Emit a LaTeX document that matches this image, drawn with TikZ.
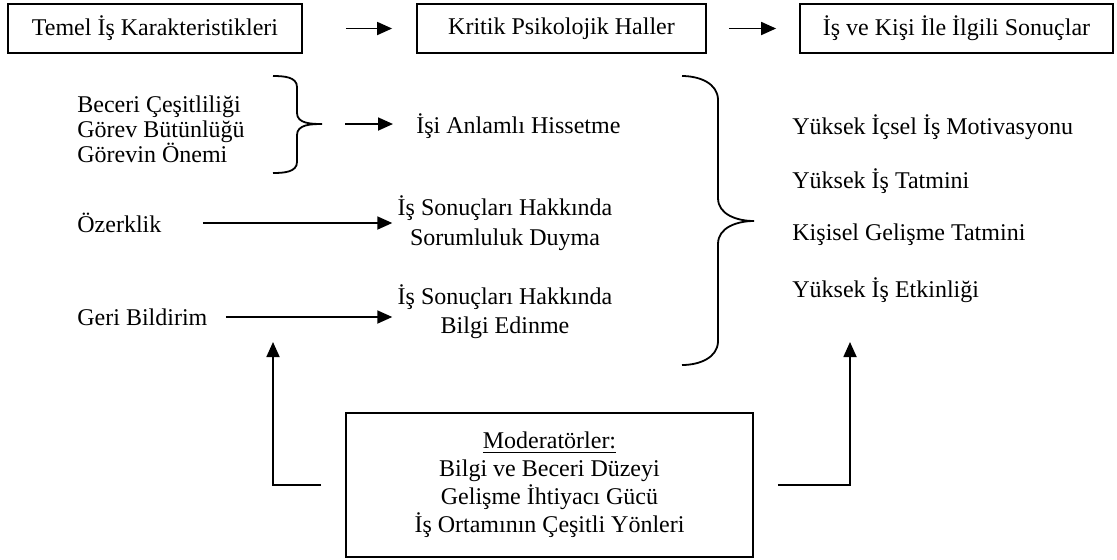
\documentclass[tikz,border=0pt]{standalone}
\usepackage{fontspec}
\setmainfont{Liberation Serif}
\usetikzlibrary{arrows.meta}
\usetikzlibrary{positioning}

\tikzset{
 kutu/.style={draw,line width=0.9pt,minimum height=24.5pt,inner sep=0pt},
 yazi/.style={inner sep=0pt,anchor=west},
 ok/.style={-{Triangle[length=7.5pt,width=6.5pt]},line width=0.9pt},
 parantez/.style={line width=0.9pt}
}

\begin{document}
\begin{tikzpicture}[x=0.5pt,y=-0.5pt,font=\fontsize{12}{14}\selectfont]
 \useasboundingbox (0,0) rectangle (1117,559);
 \node[kutu,minimum width=147pt] (temel) at (155,28.5) {Temel İş Karakteristikleri};
 \node[kutu,minimum width=144.5pt] (kritik) at (561.5,28.5) {Kritik Psikolojik Haller};
 \node[kutu,minimum width=156.5pt] (sonuc) at (956.5,28.5) {İş ve Kişi İle İlgili Sonuçlar};
 \draw[ok] ([xshift=21.5pt]temel.east) -- ([xshift=-12pt]kritik.west);
 \draw[ok] ([xshift=11pt]kritik.east) -- ([xshift=-11.5pt]sonuc.west);

 \node[yazi,align=left,font=\fontsize{12}{12.5}\selectfont] (beceri) at (77,129) {Beceri Çeşitliliği\\Görev Bütünlüğü\\Görevin Önemi};
 \draw[parantez] (273,76) to[out=0,in=90] (297,87) -- (297,113) to[out=-90,in=180] (322,124) to[out=180,in=90] (297,135) -- (297,162) to[out=-90,in=0] (273,173);
 \coordinate (kucuk) at (322,124);
 \node[yazi] (anlam) at (416,126) {İşi Anlamlı Hissetme};
 \draw[ok] ([xshift=11.5pt]kucuk) -- ([xshift=-11.5pt]anlam.west |- kucuk);

 \node[yazi] (ozerk) at (77,223) {Özerklik};
 \node[align=center,inner sep=0pt,font=\fontsize{12}{15}\selectfont] (sorum) at (505,223) {İş Sonuçları Hakkında\\Sorumluluk Duyma};
 \draw[ok] ([xshift=20.5pt]ozerk.east) -- ([xshift=-2.5pt]sorum.west);

 \node[yazi] (geri) at (77,317) {Geri Bildirim};
 \node[align=center,inner sep=0pt,font=\fontsize{12}{14.5}\selectfont] (bilgi) at (505,312) {İş Sonuçları Hakkında\\Bilgi Edinme};
 \draw[ok] ([xshift=9pt]geri.east) -- ([xshift=-2.5pt]bilgi.west |- geri.east);

 \draw[parantez] (682,76) to[out=0,in=90] (718,100) -- (718,198) to[out=-90,in=180] (754,221) to[out=180,in=90] (718,244) -- (718,341) to[out=-90,in=0] (682,365);

 \node[yazi] (motiv) at (792,127) {Yüksek İçsel İş Motivasyonu};
 \node[yazi] (tatmin) at (792,181) {Yüksek İş Tatmini};
 \node[yazi] (gelisme) at (792,235) {Kişisel Gelişme Tatmini};
 \node[yazi] (etkin) at (792,290) {Yüksek İş Etkinliği};

 \node[kutu,minimum width=203.5pt,minimum height=72pt,align=center] (moder) at (549.5,485) {\underline{Moderatörler:}\\Bilgi ve Beceri Düzeyi\\Gelişme İhtiyacı Gücü\\İş Ortamının Çeşitli Yönleri};
 \coordinate (solok) at (273,342);
 \coordinate (sagok) at (850,342);
 \draw[ok] ([xshift=-12pt]moder.west) -| (solok);
 \draw[ok] ([xshift=12pt]moder.east) -| (sagok);
\end{tikzpicture}
\end{document}
